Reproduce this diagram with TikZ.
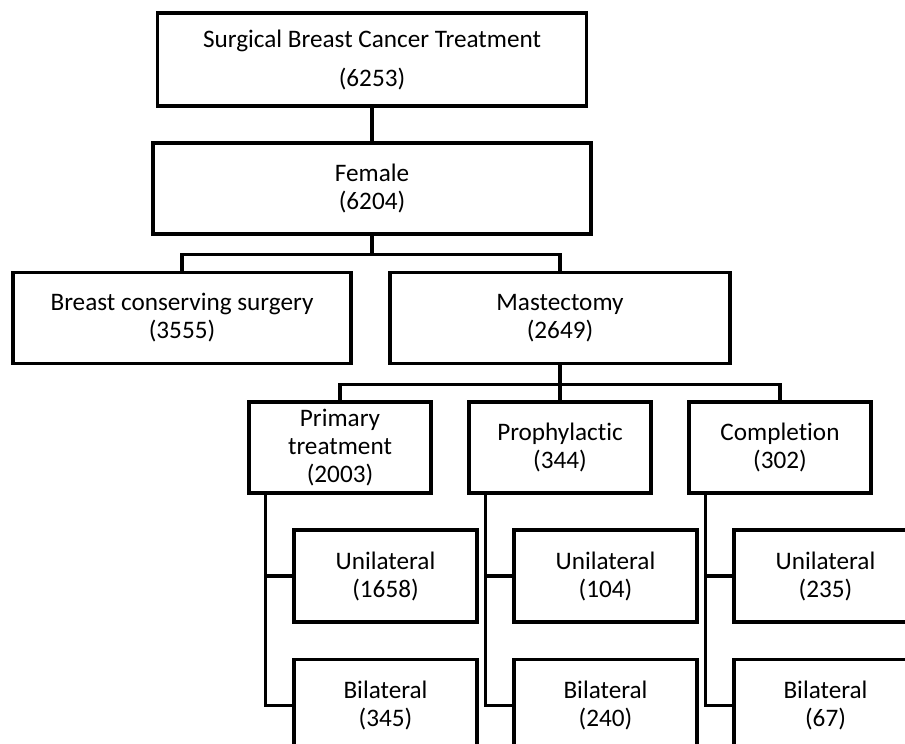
\documentclass[tikz,border=0pt]{standalone}
\usepackage{fontspec}
\setmainfont[Ligatures = NoCommon]{Carlito}
\tikzset{
    catbox/.style = {draw, line width = 1.6pt, align = center, inner sep = 0pt,
        font = \fontsize{12.6}{14}\selectfont},
    topbox/.style = {catbox, minimum width = 214.5pt, minimum height = 46.5pt},
    midbox/.style = {catbox, minimum width = 170pt, minimum height = 45.5pt},
    subbox/.style = {catbox, minimum width = 91pt, minimum height = 45.5pt},
    sidebox/.style = {catbox, minimum width = 91.5pt, minimum height = 46pt},
    link/.style = {line width = 1.6pt}
}
\begin{document}
\begin{tikzpicture}[x = 0.5pt, y = -0.5pt]
        \useasboundingbox (0, 0) rectangle (905, 744);
        \clip (0, 0) rectangle (905, 744);
        % upper levels
        \node [topbox] (surgery) at (372, 59.5) {Surgical Breast Cancer Treatment\\[5.5pt](6253)};
        \node [topbox, minimum width = 219pt, minimum height = 45.5pt] (female) at (372, 188.5) {Female\\(6204)};
        \node [midbox, minimum width = 169pt] (conserving) at (182, 318) {Breast conserving surgery\\(3555)};
        \node [midbox] (mastectomy) at (560, 318) {Mastectomy\\(2649)};
        % kinds of mastectomy
        \node [subbox] (primary) at (340, 447.5) {Primary\\treatment\\(2003)};
        \node [subbox] (prophylactic) at (560, 447.5) {Prophylactic\\(344)};
        \node [subbox] (completion) at (780, 447.5) {Completion\\(302)};
        \node [sidebox] (primuni) at (385.5, 576) {Unilateral\\(1658)};
        \node [sidebox] (primbi) at (385.5, 705.5) {Bilateral\\(345)};
        \node [sidebox] (prophuni) at (605.5, 576) {Unilateral\\(104)};
        \node [sidebox] (prophbi) at (605.5, 705.5) {Bilateral\\(240)};
        \node [sidebox] (compluni) at (825.5, 576) {Unilateral\\(235)};
        \node [sidebox] (complbi) at (825.5, 705.5) {Bilateral\\(67)};
        % connectors
        \draw [link] (surgery.south) -- (female.north);
        \draw [link] (female.south) -- ++(0, 19) -| (conserving.north);
        \draw [link] (female.south) -- ++(0, 19) -| (mastectomy.north);
        \draw [link] (mastectomy.south) -- ++(0, 19) -| (primary.north);
        \draw [link] (mastectomy.south) -- (prophylactic.north);
        \draw [link] (mastectomy.south) -- ++(0, 19) -| (completion.north);
        \draw [link] ([xshift = 9pt]primary.south west) |- (primuni.west);
        \draw [link] ([xshift = 9pt]primary.south west) |- (primbi.west);
        \draw [link] ([xshift = 9pt]prophylactic.south west) |- (prophuni.west);
        \draw [link] ([xshift = 9pt]prophylactic.south west) |- (prophbi.west);
        \draw [link] ([xshift = 9pt]completion.south west) |- (compluni.west);
        \draw [link] ([xshift = 9pt]completion.south west) |- (complbi.west);
    \end{tikzpicture}
\end{document}
